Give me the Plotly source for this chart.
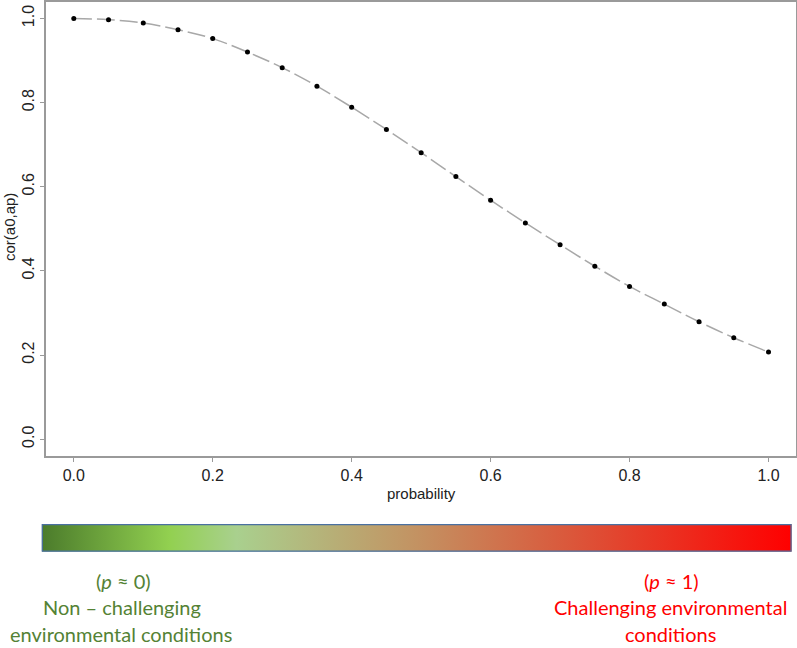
import plotly.graph_objects as go

# probability vs correlation
probability = [0.0, 0.05, 0.1, 0.15, 0.2, 0.25, 0.3, 0.35, 0.4, 0.45, 0.5,
               0.55, 0.6, 0.65, 0.7, 0.75, 0.8, 0.85, 0.9, 0.95, 1.0]
cor_a0_ap = [1.0, 0.997, 0.989, 0.973, 0.952, 0.920, 0.883, 0.839, 0.789, 0.736, 0.681,
             0.624, 0.568, 0.514, 0.462, 0.411, 0.363, 0.321, 0.279, 0.241, 0.207]

tick_vals = [0.0, 0.2, 0.4, 0.6, 0.8, 1.0]
tick_text = ['0.0', '0.2', '0.4', '0.6', '0.8', '1.0']

# colour bar below the plot (green -> red)
bar_stops = [0.0, 0.17, 0.26, 0.50, 0.75, 1.0]
bar_colors = ['#4b7b2b', '#92d050', '#a9d08e', '#c39262', '#e04a32', '#ff0000']

W, H = 797, 648
font = 'Liberation Sans, Arial, sans-serif'
label_font = 'Lato, Open Sans, sans-serif'
green = '#548235'
red = '#ff0000'

fig = go.Figure()

fig.add_trace(go.Scatter(
    x=probability, y=cor_a0_ap, mode='lines',
    line=dict(color='#a8a8a8', width=1.5, dash='18px,5px', shape='spline'),
    hoverinfo='skip', showlegend=False))
fig.add_trace(go.Scatter(
    x=probability, y=cor_a0_ap, mode='markers',
    marker=dict(color='black', size=5), showlegend=False))

# gradient bar
fig.add_trace(go.Scatter(
    x=[0, 1, 1, 0, 0], y=[0, 0, 1, 1, 0], mode='lines', fill='toself',
    fillgradient=dict(type='horizontal',
                      colorscale=[[s, c] for s, c in zip(bar_stops, bar_colors)]),
    line=dict(color='#4a70a0', width=2.5), cliponaxis=False,
    xaxis='x2', yaxis='y2', hoverinfo='skip', showlegend=False))

axis_style = dict(showline=True, mirror=True, linecolor='#9a9a9a', linewidth=1.5,
                  ticks='outside', ticklen=4, tickcolor='#9a9a9a', tickwidth=1,
                  showgrid=False, zeroline=False, tickvals=tick_vals, ticktext=tick_text,
                  tickfont=dict(family=font, size=16, color='#222222'))

fig.update_layout(
    width=W, height=H, autosize=False,
    margin=dict(l=0, r=0, t=0, b=0),
    plot_bgcolor='white', paper_bgcolor='white',
    xaxis=dict(domain=[46 / W, 795.6 / W], range=[-0.04, 1.039], automargin=False,
               **axis_style),
    yaxis=dict(domain=[1 - 456 / H, 1 - 2 / H], range=[-0.04, 1.039], automargin=False,
               tickangle=-90, **axis_style),
    xaxis2=dict(domain=[41.7 / W, 791.7 / W], range=[0, 1], visible=False,
                anchor='y2', fixedrange=True),
    yaxis2=dict(domain=[1 - 551.7 / H, 1 - 524 / H], range=[0, 1], visible=False,
                anchor='x2', fixedrange=True),
)

annotations = [
    dict(text='probability', x=421 / W, y=1 - 493 / H, font=dict(family=font, size=15, color='#222222')),
    dict(text='cor(a0,ap)', x=9 / W, y=1 - 227 / H, textangle=-90,
         font=dict(family=font, size=15, color='#222222')),
    dict(text='(<i>p</i> ≈ 0)', x=123 / W, y=1 - 581 / H, font=dict(family=label_font, size=20, color=green)),
    dict(text='Non – challenging', x=122 / W, y=1 - 607 / H, font=dict(family=label_font, size=20, color=green)),
    dict(text='environmental conditions', x=121 / W, y=1 - 634 / H,
         font=dict(family=label_font, size=20, color=green)),
    dict(text='(<i>p</i> ≈ 1)', x=671 / W, y=1 - 581 / H, font=dict(family=label_font, size=20, color=red)),
    dict(text='Challenging environmental', x=670 / W, y=1 - 607 / H,
         font=dict(family=label_font, size=20, color=red)),
    dict(text='conditions', x=670 / W, y=1 - 634 / H, font=dict(family=label_font, size=20, color=red)),
]
for a in annotations:
    fig.add_annotation(xref='paper', yref='paper', showarrow=False,
                       xanchor='center', yanchor='middle', **a)

# page body has a default 8px margin; drop it so the figure fills the window
fig.write_html('out.html', config={'displayModeBar': False},
               post_script="document.body.style.margin='0';")
